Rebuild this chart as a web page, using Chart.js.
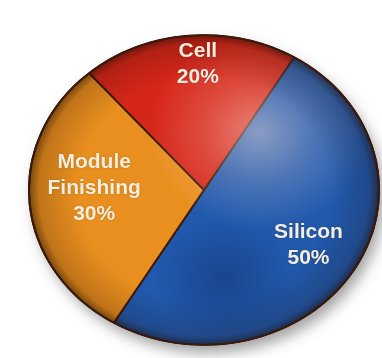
<!DOCTYPE html>
<html lang="en">
<head>
    <meta charset="UTF-8">
    <title>Cost Share by Stage</title>
    <script src="https://cdn.jsdelivr.net/npm/chart.js"></script>
    <style>
        html, body { margin: 0; padding: 0; background: #ffffff; overflow: hidden; }
        .chart-container { position: relative; width: 382px; height: 376px; }
    </style>
</head>
<body>
    <div class="chart-container">
        <canvas id="shareChart"></canvas>
    </div>

    <script>
        // Data
        const stages = ['Silicon', 'Module Finishing', 'Cell'];
        const shares = [50, 30, 20];
        const stageLines = [['Silicon'], ['Module', 'Finishing'], ['Cell']];

        // Look
        const sliceColors = ['#2159ad', '#e98f1f', '#d62619'];
        const squash = 0.885;                // vertical flattening of the disc
        const labelRadius = [0.69, 0.63, 0.8];
        const labelNudge = [[1, 0], [0, -10], [6, -2]];

        function squashAbout(ctx, cy) {
            ctx.translate(0, cy);
            ctx.scale(1, squash);
            ctx.translate(0, -cy);
        }

        // Flattened, shaded disc with drop shadow
        const ballPie = {
            id: 'ballPie',
            beforeDatasetsDraw(chart) {
                const ctx = chart.ctx;
                const arc = chart.getDatasetMeta(0).data[0];
                const {x, y, outerRadius: r} = arc;
                ctx.save();
                squashAbout(ctx, y);

                ctx.save();
                ctx.shadowColor = 'rgba(70, 70, 70, 0.5)';
                ctx.shadowBlur = 14;
                ctx.shadowOffsetX = 5;
                ctx.shadowOffsetY = 8;
                ctx.beginPath();
                ctx.arc(x, y, r, 0, Math.PI * 2);
                ctx.fillStyle = '#777';
                ctx.fill();
                ctx.restore();
            },
            afterDatasetsDraw(chart) {
                const ctx = chart.ctx;
                const arc = chart.getDatasetMeta(0).data[0];
                const {x, y, outerRadius: r} = arc;

                ctx.save();
                ctx.beginPath();
                ctx.arc(x, y, r + 1, 0, Math.PI * 2);
                ctx.clip();

                // glossy highlight across the red/blue edge
                const hx = x + 55, hy = y - 65;
                let g = ctx.createRadialGradient(hx, hy, 0, hx, hy, 110);
                g.addColorStop(0, 'rgba(255, 230, 220, 0.48)');
                g.addColorStop(0.5, 'rgba(255, 230, 220, 0.2)');
                g.addColorStop(1, 'rgba(255, 230, 220, 0)');
                ctx.fillStyle = g;
                ctx.fillRect(x - r, y - r, 2 * r, 2 * r);

                // soft dark hollow in the lower blue part
                const dx = x + 20, dy = y + 100;
                g = ctx.createRadialGradient(dx, dy, 0, dx, dy, 70);
                g.addColorStop(0, 'rgba(10, 25, 70, 0.32)');
                g.addColorStop(1, 'rgba(10, 25, 70, 0)');
                ctx.fillStyle = g;
                ctx.fillRect(x - r, y - r, 2 * r, 2 * r);

                // rim shading
                g = ctx.createRadialGradient(x, y, r * 0.72, x, y, r);
                g.addColorStop(0, 'rgba(30, 10, 0, 0)');
                g.addColorStop(0.8, 'rgba(30, 10, 0, 0.2)');
                g.addColorStop(1, 'rgba(30, 10, 0, 0.55)');
                ctx.fillStyle = g;
                ctx.fillRect(x - r, y - r, 2 * r, 2 * r);
                ctx.restore();

                // dark outline
                ctx.beginPath();
                ctx.arc(x, y, r, 0, Math.PI * 2);
                ctx.lineWidth = 2;
                ctx.strokeStyle = '#3a1a0c';
                ctx.stroke();

                ctx.restore();
            },
            afterDraw(chart) {
                const ctx = chart.ctx;
                const meta = chart.getDatasetMeta(0);
                ctx.save();
                ctx.font = 'bold 21px "Liberation Sans", Arial, sans-serif';
                ctx.textAlign = 'center';
                ctx.textBaseline = 'middle';
                ctx.fillStyle = '#f6eedd';
                ctx.shadowColor = 'rgba(0, 0, 0, 0.25)';
                ctx.shadowBlur = 2;
                meta.data.forEach((arc, i) => {
                    const mid = (arc.startAngle + arc.endAngle) / 2;
                    const rr = arc.outerRadius * labelRadius[i];
                    const px = arc.x + Math.cos(mid) * rr + labelNudge[i][0];
                    const py = arc.y + Math.sin(mid) * rr * squash + labelNudge[i][1];
                    const lines = stageLines[i].concat([shares[i] + '%']);
                    const lh = 26;
                    const top = py - (lines.length - 1) * lh / 2;
                    lines.forEach((t, k) => ctx.fillText(t, px, top + k * lh));
                });
                ctx.restore();
            }
        };

        const ctx = document.getElementById('shareChart').getContext('2d');
        const shareChart = new Chart(ctx, {
            type: 'pie',
            data: {
                labels: stages,
                datasets: [{
                    data: shares,
                    backgroundColor: sliceColors,
                    borderColor: '#3a1a0c',
                    borderWidth: 2,
                    hoverOffset: 0
                }]
            },
            options: {
                responsive: true,
                maintainAspectRatio: false,
                animation: false,
                rotation: 31,
                layout: { padding: { left: 28, right: 2, top: 14, bottom: 10 } },
                plugins: {
                    legend: { display: false },
                    tooltip: { enabled: false }
                }
            },
            plugins: [ballPie]
        });
    </script>
</body>
</html>
